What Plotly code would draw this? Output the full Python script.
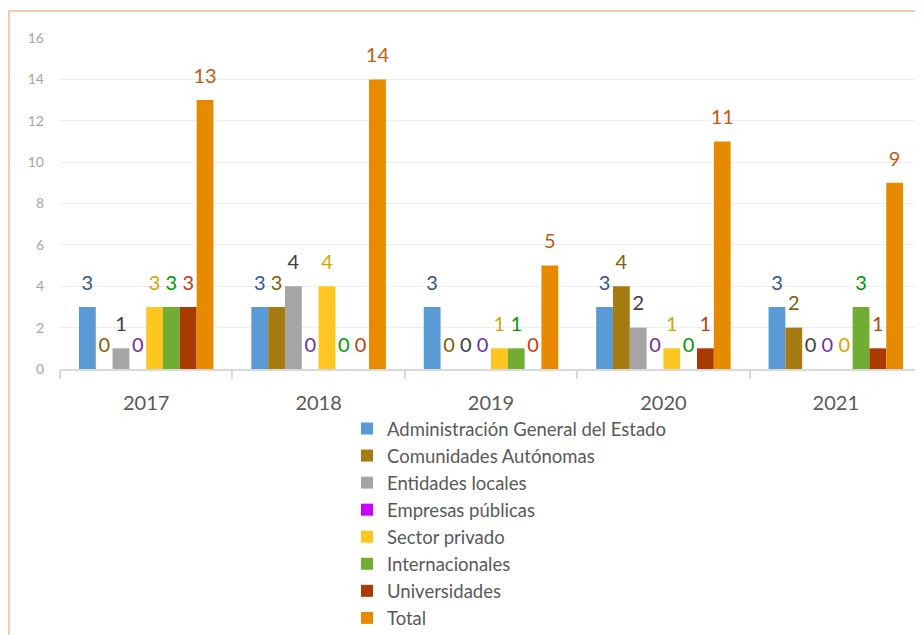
import plotly.graph_objects as go

years = ["2017", "2018", "2019", "2020", "2021"]
series_names = [
    "Administración General del Estado",
    "Comunidades Autónomas",
    "Entidades locales",
    "Empresas públicas",
    "Sector privado",
    "Internacionales",
    "Universidades",
    "Total",
]
age = [3, 3, 3, 3, 3]
ccaa = [0, 3, 0, 4, 2]
eell = [1, 4, 0, 2, 0]
empresas = [0, 0, 0, 0, 0]
privado = [3, 4, 1, 1, 0]
internacionales = [3, 0, 1, 0, 3]
universidades = [3, 0, 0, 1, 1]
total = [13, 14, 5, 11, 9]

values = [age, ccaa, eell, empresas, privado, internacionales, universidades, total]
bar_colors = ["#5B9BD5", "#A67C12", "#A5A5A5", "#CC00FF", "#FFC520", "#70AD32", "#A93A02", "#E88A00"]
label_colors = ["#2F5597", "#7F6000", "#404040", "#7030A0", "#D4A500", "#009A00", "#C0400F", "#C55A11"]

FONT = "Lato, 'Open Sans', sans-serif"

fig = go.Figure()
for i, (name, vals) in enumerate(zip(series_names, values)):
    fig.add_trace(go.Bar(
        x=years, y=vals, name=name,
        marker=dict(color=bar_colors[i], line=dict(width=0)),
        offsetgroup=str(i), alignmentgroup="g",
    ))
for i, (name, vals) in enumerate(zip(series_names, values)):
    fig.add_trace(go.Scatter(
        x=years, y=vals, name=name + " etiqueta",
        mode="markers+text",
        marker=dict(size=18, opacity=0, color=bar_colors[i]),
        text=[str(v) for v in vals],
        textposition="top center",
        textfont=dict(size=20, color=label_colors[i], family=FONT),
        offsetgroup=str(i), alignmentgroup="g",
        showlegend=False, hoverinfo="skip", cliponaxis=False,
    ))

# page has an 8px body margin; work in page pixels
OFF = 8
W, H = 923 - OFF, 635 - OFF
plot_left, plot_right, plot_top, plot_bottom = 60, 922, 38, 369
L = plot_left - OFF
R = W - (plot_right - OFF)
T = plot_top - OFF
B = H - (plot_bottom - OFF)
pw = W - L - R
ph = H - T - B

def px_x(p):
    return (p - plot_left) / pw

def px_y(p):
    return 1 - (p - plot_top) / ph

fig.update_layout(
    width=W, height=H,
    margin=dict(l=L, r=R, t=T, b=B, autoexpand=False),
    paper_bgcolor="white", plot_bgcolor="white",
    barmode="group", bargap=0.22, bargroupgap=0,
    scattermode="group", scattergap=0.22,
    font=dict(family=FONT, color="#595959"),
    showlegend=True,
    legend=dict(
        x=px_x(347), y=px_y(410), xanchor="left", yanchor="top",
        font=dict(size=18.5, color="#595959", family=FONT),
        bgcolor="rgba(0,0,0,0)", tracegroupgap=0, borderwidth=0,
        itemwidth=30,
    ),
    xaxis=dict(
        type="category", automargin=False,
        showline=True, linecolor="#D9D9D9", linewidth=2,
        ticks="outside", tickson="boundaries", ticklen=8, tickcolor="#D9D9D9", tickwidth=2,
        tickfont=dict(size=20, color="#595959", family=FONT),
        showgrid=False,
        ticklabelstandoff=15,
    ),
    yaxis=dict(
        range=[0, 16], dtick=2, automargin=False,
        showgrid=True, gridcolor="#EEEEEE", gridwidth=1,
        zeroline=False,
        tickfont=dict(size=14, color="#A6A6A6", family=FONT),
        ticklabelstandoff=15,
    ),
    shapes=[
        dict(type="line", xref="paper", yref="paper",
             x0=px_x(9), x1=px_x(9), y0=px_y(11), y1=px_y(650),
             line=dict(color="#F8CBAD", width=2)),
        dict(type="line", xref="paper", yref="paper",
             x0=px_x(8), x1=px_x(940), y0=px_y(11), y1=px_y(11),
             line=dict(color="#F8CBAD", width=2)),
    ],
)

fig.write_html("out.html")
